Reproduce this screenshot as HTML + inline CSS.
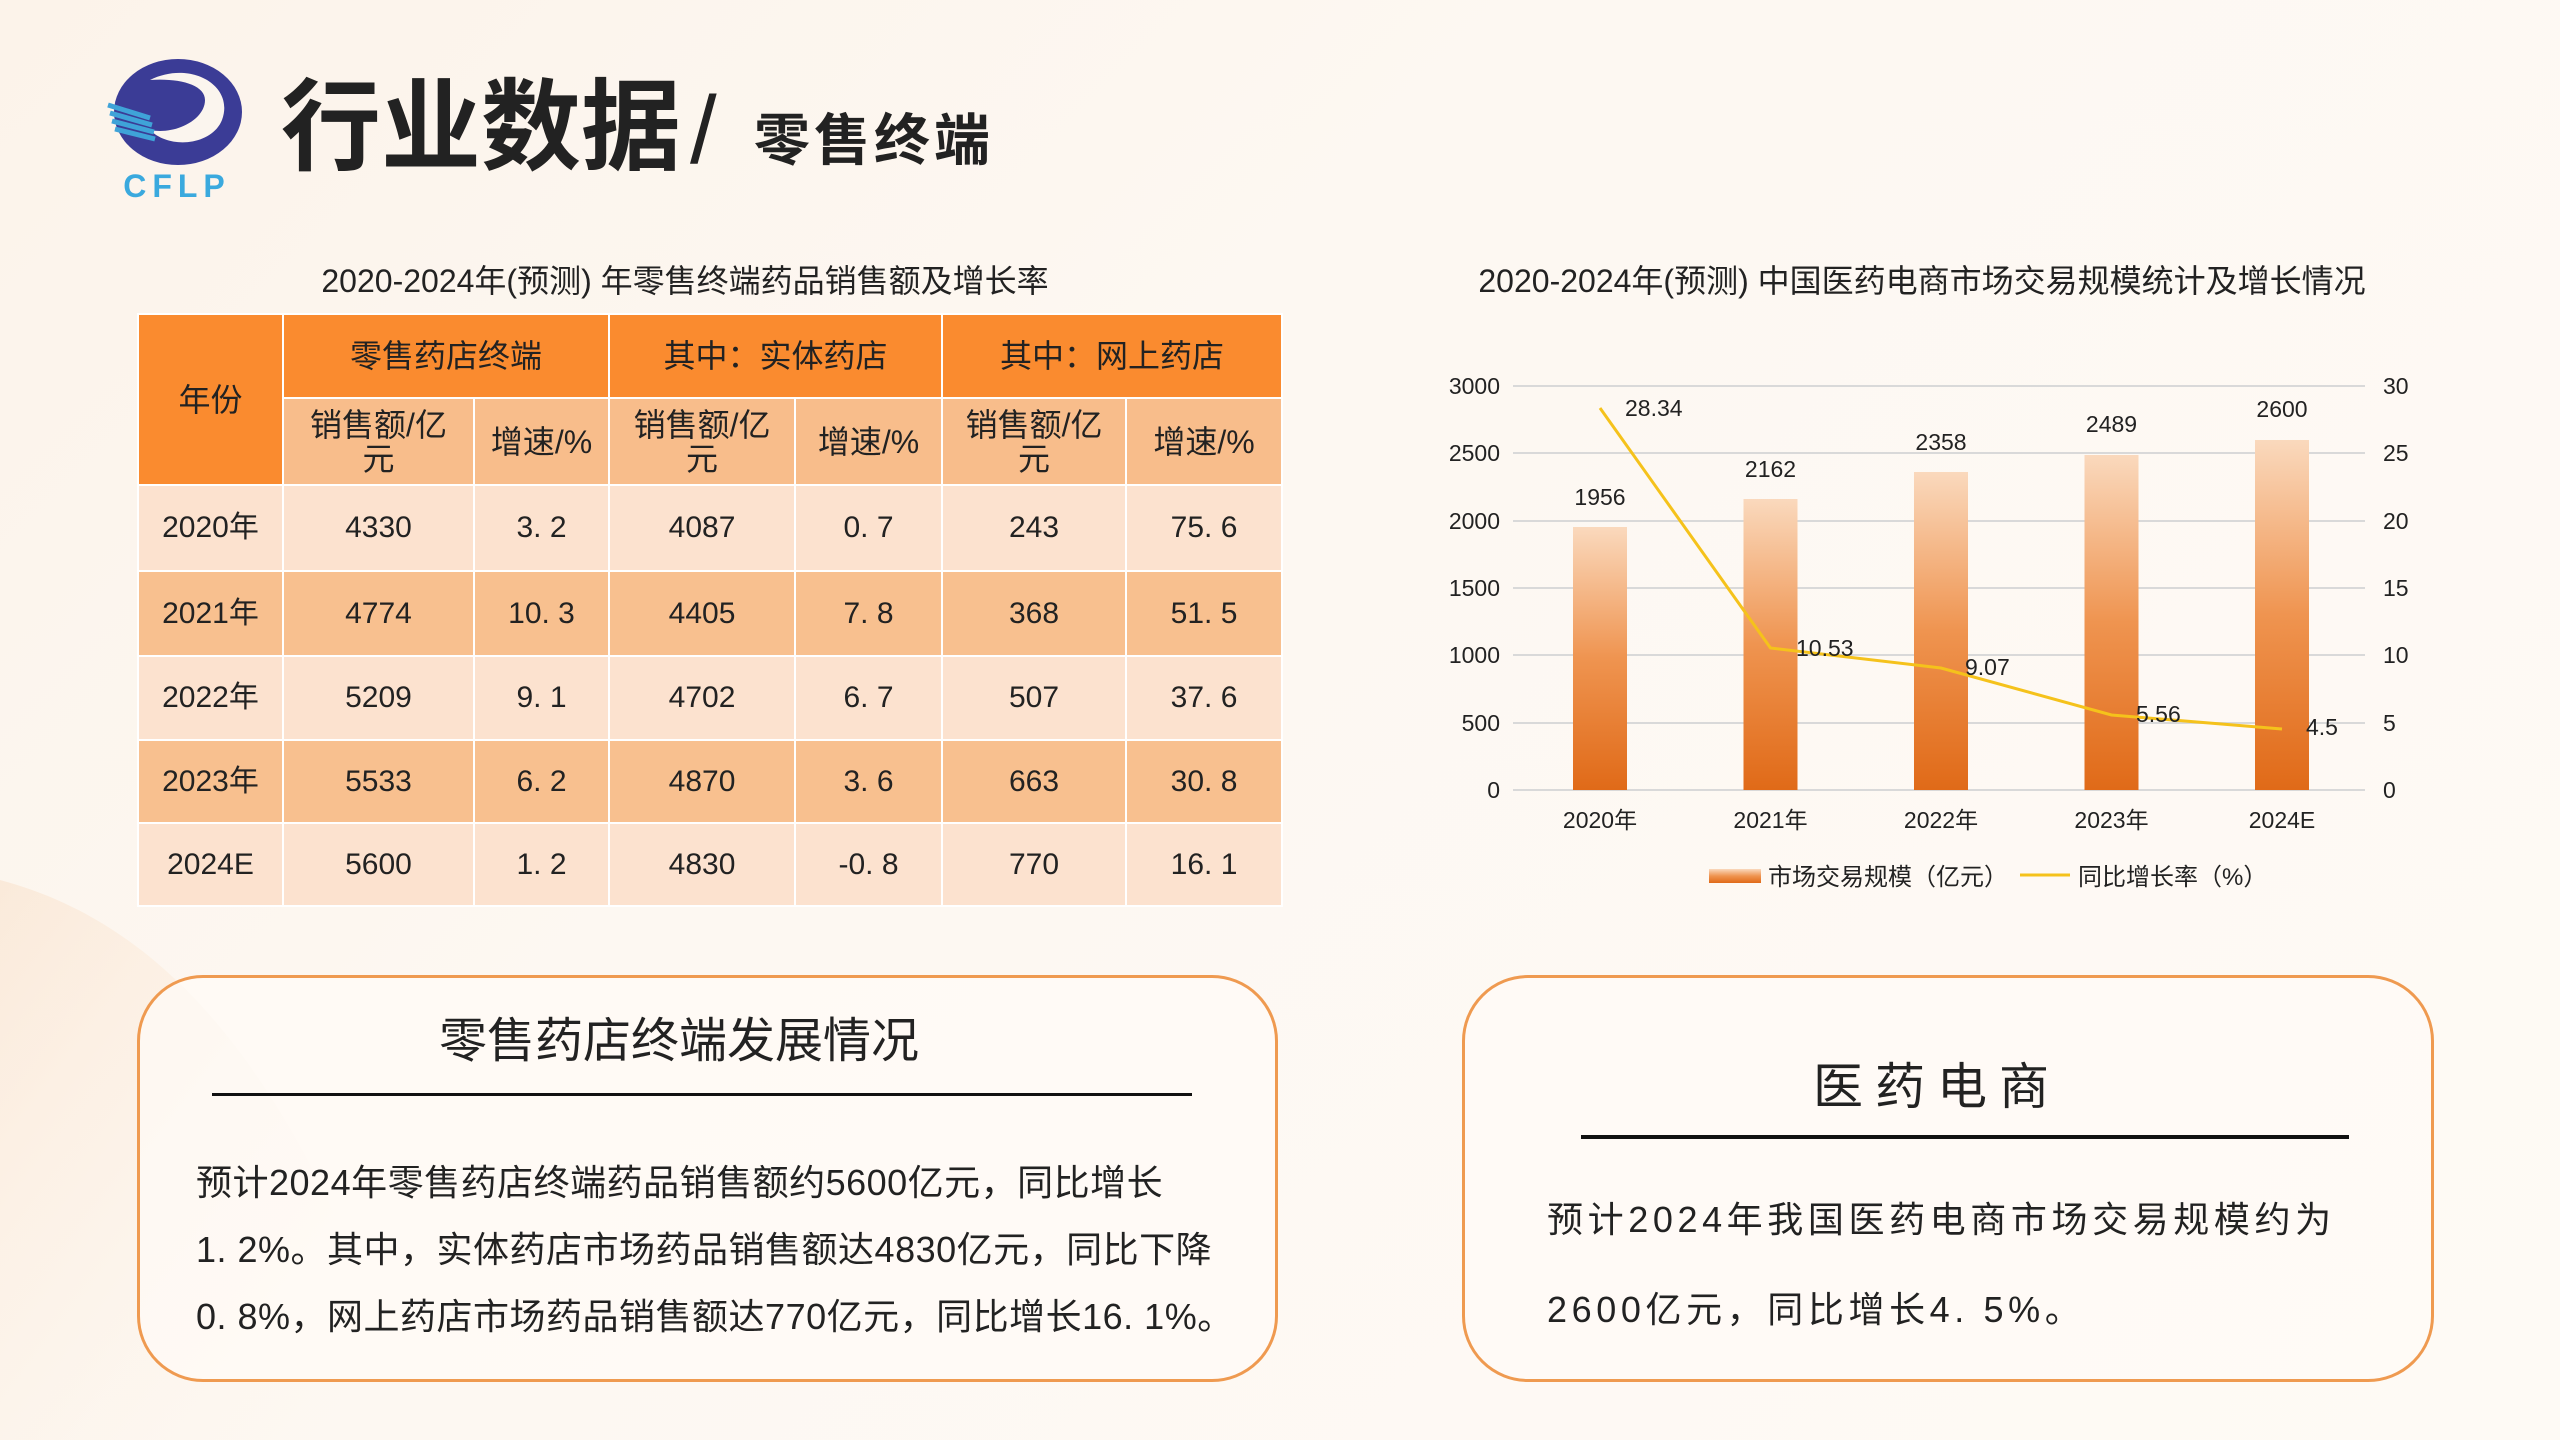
<!DOCTYPE html>
<html><head><meta charset="utf-8">
<style>
*{margin:0;padding:0;box-sizing:border-box}
body{width:2560px;height:1440px;overflow:hidden;position:relative;
background:linear-gradient(135deg,#fcf3ea 0%,#fdf8f2 40%,#fefaf5 100%);
font-family:"Liberation Sans","Noto Sans CJK SC",sans-serif;color:#222}
.abs{position:absolute}
table{position:absolute;left:137px;top:313px;width:1144px;border-collapse:collapse;table-layout:fixed}
td{border:2px solid #fff;text-align:center;font-size:30px;color:#222;line-height:34px}
.h1,.h2{font-size:32px}
.h1{background:#fa8b2f}
.h2{background:#f8bd8b}
.l td{background:#fce2cf}
.d td{background:#f8c08f}
.box{position:absolute;border:3px solid #ef9a50;border-radius:66px;background:rgba(255,251,246,0.7)}
</style></head><body>
<svg class="abs" style="left:0;top:0" width="2560" height="1440">
<defs>
<linearGradient id="bg" x1="0" y1="0" x2="0" y2="1"><stop offset="0" stop-color="#fad9bd"/><stop offset="0.5" stop-color="#ef9450"/><stop offset="1" stop-color="#e06a18"/></linearGradient>
<linearGradient id="sw" x1="0" y1="0" x2="1" y2="1"><stop offset="0" stop-color="#f7d4b4" stop-opacity="0.35"/><stop offset="1" stop-color="#fdf6ee" stop-opacity="0"/></linearGradient>
</defs>
<path d="M0 880 C150 920 300 1050 420 1440 L0 1440 Z" fill="url(#sw)"/>
<ellipse cx="178" cy="112" rx="64" ry="53" fill="#3b3c96"/>
<path d="M150 80 C190 60 235 85 222 120 C212 145 170 150 150 130 C175 135 205 120 205 100 C205 85 180 78 150 80Z" fill="#fbf5ee"/>
<path d="M108 105 L150 118 M110 113 L152 125 M112 121 L154 132 M115 129 L155 139" stroke="#3fa3d8" stroke-width="5"/>
<text x="177" y="197" font-size="32" font-weight="bold" fill="#3aa9de" text-anchor="middle" letter-spacing="6" font-family="Liberation Sans,sans-serif">CFLP</text>
<text x="1922" y="292" font-size="32" text-anchor="middle" fill="#222">2020-2024年(预测) 中国医药电商市场交易规模统计及增长情况</text>
<g stroke="#d9d9d9" stroke-width="2">
<line x1="1513" y1="386" x2="2365" y2="386"/><line x1="1513" y1="453" x2="2365" y2="453"/>
<line x1="1513" y1="521" x2="2365" y2="521"/><line x1="1513" y1="588" x2="2365" y2="588"/>
<line x1="1513" y1="655" x2="2365" y2="655"/><line x1="1513" y1="723" x2="2365" y2="723"/>
<line x1="1513" y1="790" x2="2365" y2="790"/>
</g>
<g font-size="23" fill="#222">
<g text-anchor="end"><text x="1500" y="394">3000</text><text x="1500" y="461">2500</text><text x="1500" y="529">2000</text><text x="1500" y="596">1500</text><text x="1500" y="663">1000</text><text x="1500" y="731">500</text><text x="1500" y="798">0</text></g>
<g><text x="2383" y="394">30</text><text x="2383" y="461">25</text><text x="2383" y="529">20</text><text x="2383" y="596">15</text><text x="2383" y="663">10</text><text x="2383" y="731">5</text><text x="2383" y="798">0</text></g>
</g>
<g fill="url(#bg)">
<rect x="1573" y="527" width="54" height="263"/><rect x="1743.5" y="499" width="54" height="291"/>
<rect x="1914" y="472" width="54" height="318"/><rect x="2084.5" y="455" width="54" height="335"/>
<rect x="2255" y="440" width="54" height="350"/>
</g>
<g font-size="23" text-anchor="middle" fill="#222">
<text x="1600" y="505">1956</text><text x="1770.5" y="477">2162</text><text x="1941" y="450">2358</text><text x="2111.5" y="432">2489</text><text x="2282" y="417">2600</text>
<text x="1600" y="828">2020年</text><text x="1770.5" y="828">2021年</text><text x="1941" y="828">2022年</text><text x="2111.5" y="828">2023年</text><text x="2282" y="828">2024E</text>
</g>
<polyline points="1600,408 1770.5,648 1941,668 2111.5,715 2282,729" fill="none" stroke="#f5c21b" stroke-width="3"/>
<g font-size="23" fill="#222">
<text x="1625" y="416">28.34</text><text x="1796" y="656">10.53</text><text x="1965" y="675">9.07</text><text x="2136" y="722">5.56</text><text x="2306" y="735">4.5</text>
</g>
<rect x="1709" y="869" width="52" height="14" fill="url(#bg)"/>
<text x="1768" y="885" font-size="24" fill="#222">市场交易规模（亿元）</text>
<line x1="2020" y1="875" x2="2070" y2="875" stroke="#f5c21b" stroke-width="3"/>
<text x="2078" y="885" font-size="24" fill="#222">同比增长率（%）</text>
</svg>

<div class="abs" style="left:281px;top:68px;font-size:100px;font-weight:bold;line-height:120px;white-space:nowrap">行业数据</div>
<div class="abs" style="left:690px;top:76px;font-size:96px;line-height:110px">/</div>
<div class="abs" style="left:754px;top:108px;font-size:56px;font-weight:bold;line-height:66px;letter-spacing:4px;white-space:nowrap">零售终端</div>

<div class="abs" style="left:113px;top:256px;width:1144px;text-align:center;font-size:32px">2020-2024年(预测) 年零售终端药品销售额及增长率</div>

<table>
<colgroup><col style="width:145px"><col style="width:191px"><col style="width:135px"><col style="width:186px"><col style="width:147px"><col style="width:184px"><col style="width:156px"></colgroup>
<tr style="height:84px"><td class="h1" rowspan="2">年份</td><td class="h1" colspan="2">零售药店终端</td><td class="h1" colspan="2">其中：实体药店</td><td class="h1" colspan="2">其中：网上药店</td></tr>
<tr style="height:87px"><td class="h2">销售额/亿<br>元</td><td class="h2">增速/%</td><td class="h2">销售额/亿<br>元</td><td class="h2">增速/%</td><td class="h2">销售额/亿<br>元</td><td class="h2">增速/%</td></tr>
<tr class="l" style="height:86px"><td>2020年</td><td>4330</td><td>3. 2</td><td>4087</td><td>0. 7</td><td>243</td><td>75. 6</td></tr>
<tr class="d" style="height:85px"><td>2021年</td><td>4774</td><td>10. 3</td><td>4405</td><td>7. 8</td><td>368</td><td>51. 5</td></tr>
<tr class="l" style="height:84px"><td>2022年</td><td>5209</td><td>9. 1</td><td>4702</td><td>6. 7</td><td>507</td><td>37. 6</td></tr>
<tr class="d" style="height:83px"><td>2023年</td><td>5533</td><td>6. 2</td><td>4870</td><td>3. 6</td><td>663</td><td>30. 8</td></tr>
<tr class="l" style="height:83px"><td>2024E</td><td>5600</td><td>1. 2</td><td>4830</td><td>-0. 8</td><td>770</td><td>16. 1</td></tr>
</table>

<div class="box" style="left:137px;top:975px;width:1141px;height:407px"></div>
<div class="abs" style="left:379px;top:1013px;width:600px;text-align:center;font-size:48px;line-height:58px;white-space:nowrap">零售药店终端发展情况</div>
<div class="abs" style="left:212px;top:1093px;width:980px;height:3px;background:#111"></div>
<div class="abs" style="left:196px;top:1149px;font-size:36px;line-height:67px;letter-spacing:0.5px;white-space:nowrap">
<div>预计2024年零售药店终端药品销售额约5600亿元，同比增长</div>
<div>1. 2%。其中，实体药店市场药品销售额达4830亿元，同比下降</div>
<div>0. 8%，网上药店市场药品销售额达770亿元，同比增长16. 1%。</div>
</div>

<div class="box" style="left:1462px;top:975px;width:972px;height:407px"></div>
<div class="abs" style="left:1462px;top:1057px;width:950px;text-align:center;font-size:50px;line-height:60px;letter-spacing:12px">医药电商</div>
<div class="abs" style="left:1581px;top:1135px;width:768px;height:4px;background:#111"></div>
<div class="abs" style="left:1547px;top:1175px;font-size:36px;line-height:90px;letter-spacing:4.6px;white-space:nowrap">
<div>预计2024年我国医药电商市场交易规模约为</div>
<div>2600亿元，同比增长4. 5%。</div>
</div>
</body></html>
